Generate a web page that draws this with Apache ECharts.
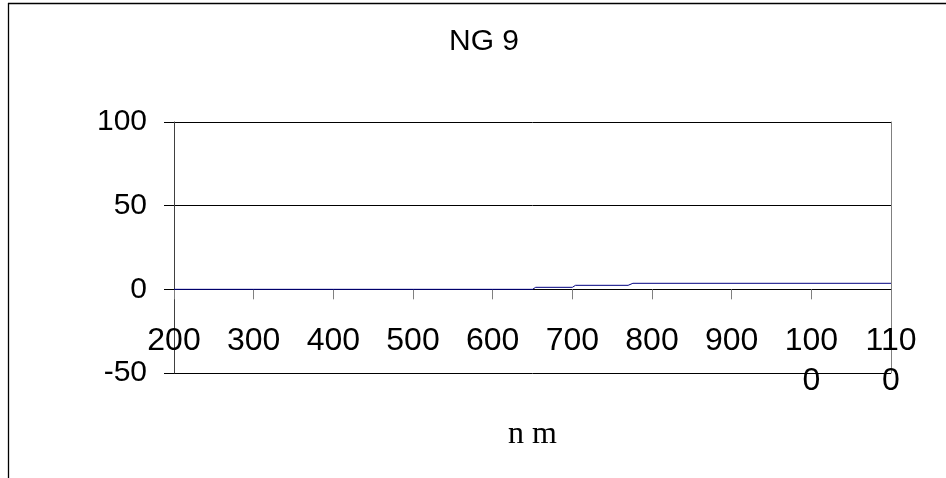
<!DOCTYPE html>
<html>
<head>
<meta charset="utf-8">
<script src="https://cdn.jsdelivr.net/npm/echarts@6/dist/echarts.min.js"></script>
<style>
html,body{margin:0;padding:0;background:#fff;}
#chart{width:946px;height:478px;}
</style>
</head>
<body>
<div id="chart"></div>
<script>
const titleText = 'NG 9';
const xAxisName = 'n m';
const wavelengths = [200, 650, 654, 700, 704, 770, 776, 1100];
const values = [0, 0, 1.2, 1.2, 2.4, 2.4, 3.6, 3.6];
const xTicks = { min: 200, max: 1100, interval: 100 };
const yTicks = { min: -50, max: 100, interval: 50 };

const chart = echarts.init(document.getElementById('chart'), null, { renderer: 'canvas' });
const sans = 'Liberation Sans, Arial, sans-serif';

chart.setOption({
  animation: false,
  backgroundColor: '#fff',
  title: {
    text: titleText,
    left: 444,
    top: 22,
    textStyle: { fontFamily: sans, fontSize: 30, fontWeight: 'normal', color: '#000' }
  },
  graphic: [
    { type: 'line', shape: { x1: 8.5, y1: 3, x2: 8.5, y2: 478 }, style: { stroke: '#000', lineWidth: 1.3 } },
    { type: 'line', shape: { x1: 8, y1: 3.5, x2: 946, y2: 3.5 }, style: { stroke: '#000', lineWidth: 1.3 } }
  ],
  grid: { left: 174, right: 55, top: 122, bottom: 105, containLabel: false, outerBoundsMode: 'none' },
  xAxis: {
    type: 'value',
    min: xTicks.min, max: xTicks.max, interval: xTicks.interval,
    name: xAxisName,
    nameLocation: 'middle',
    nameGap: 46,
    nameTextStyle: { fontFamily: 'Liberation Serif, Times New Roman, serif', fontSize: 32, color: '#000' },
    axisLine: { onZero: true, lineStyle: { color: '#000', width: 1 } },
    axisTick: { show: true, inside: false, length: 10, lineStyle: { color: '#808080', width: 1 } },
    axisLabel: {
      margin: -52,
      lineHeight: 40,
      fontFamily: sans, fontSize: 32, color: '#000',
      formatter: v => { const s = String(v); return s.length > 3 ? s.slice(0, 3) + '\n' + s.slice(3) : s; }
    },
    splitLine: { show: false }
  },
  yAxis: [{
    type: 'value',
    min: yTicks.min, max: yTicks.max, interval: yTicks.interval,
    axisLine: { show: true, onZero: false, lineStyle: { color: '#404040', width: 1 } },
    axisTick: { show: true, inside: false, length: 10, lineStyle: { color: '#000', width: 1 } },
    axisLabel: { margin: 27, fontFamily: sans, fontSize: 30, color: '#000' },
    splitLine: { show: true, lineStyle: { color: '#000', width: 1 } }
  }, {
    type: 'value',
    position: 'right',
    min: yTicks.min, max: yTicks.max, interval: yTicks.interval,
    axisLine: { show: true, onZero: false, lineStyle: { color: '#808080', width: 1 } },
    axisTick: { show: false },
    axisLabel: { show: false },
    splitLine: { show: false }
  }],
  series: [{
    type: 'line',
    data: wavelengths.map((w, i) => [w, values[i]]),
    showSymbol: false,
    symbol: 'none',
    lineStyle: { color: '#000080', width: 1 },
    z: 5
  }]
});
</script>
</body>
</html>
